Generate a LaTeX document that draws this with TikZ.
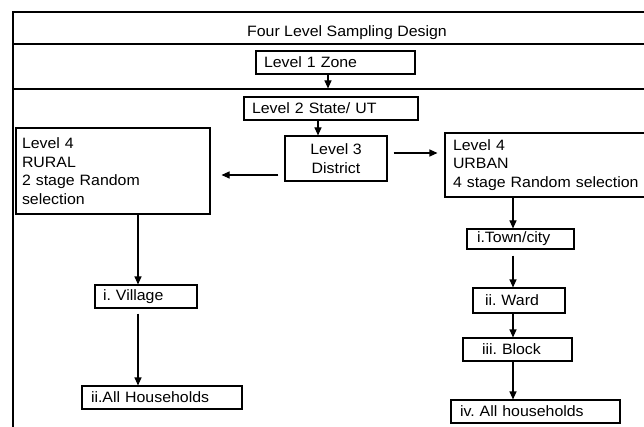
\documentclass[tikz,border=0pt]{standalone}
\usepackage{fontspec}
\setmainfont{Liberation Sans}[FakeStretch=1.06]
\usetikzlibrary{arrows.meta}

\begin{document}
\frenchspacing
\begin{tikzpicture}[x=1pt,y=-1pt,
    font=\fontsize{15}{18.7}\selectfont,
    line width=1.1pt,
    stagebox/.style={draw,rectangle,text width=#1,align=left,inner xsep=8pt,inner ysep=2pt,minimum height=23pt},
    midbox/.style={draw,rectangle,align=center,minimum width=102pt,minimum height=45pt},
    arr/.style={-{Triangle[length=8pt,width=7pt]}}]
  \useasboundingbox (0,0) rectangle (644,427);
  \clip (0,0) rectangle (644,427);
  % frame of the design
  \draw (13,427) -- (13,12) -- (660,12);
  \draw (13,44) -- (660,44);
  \draw (13,89) -- (660,89);
  \node[anchor=base] (title) at (347,36.7) {Four Level Sampling Design};

  \node[stagebox=143pt] (zone) at (335.5,62.5) {Level 1 Zone};
  \node[stagebox=158pt] (state) at (331,108.5) {Level 2 State/ UT};
  \node[midbox] (district) at (336,158.5) {Level 3\\District};
  \node[stagebox=182pt,inner xsep=6pt,minimum height=86pt] (rural) at (113,171)
    {Level 4\\RURAL\\2 stage Random\\selection};
  \node[stagebox=189pt,minimum height=64pt] (urban) at (547.5,165)
    {Level 4\\URBAN\\4 stage Random selection};

  % rural side
  \node[stagebox=86pt] (village) at (146,296.5) {i. Village};
  \node[stagebox=142pt,inner xsep=9pt] (hhrural) at (162,397.5) {ii.All Households};
  % urban side
  \node[stagebox=87pt,inner xsep=10pt,minimum height=20pt] (town) at (520.5,239) {i.Town/city};
  \node[stagebox=68pt,inner xsep=12pt,minimum height=25pt] (ward) at (519,300.5) {ii. Ward};
  \node[stagebox=71pt,inner xsep=19pt] (block) at (517.5,349.5) {iii. Block};
  \node[stagebox=151pt,inner xsep=9pt] (hhurban) at (535.5,411.5) {iv. All households};

  \draw[arr,shorten >=8pt] ([xshift=-7.5pt]zone.south) -- ([xshift=-7.5pt]zone.south |- state.north);
  \draw[arr] ([xshift=-13pt]state.south) -- ([xshift=-13pt]state.south |- district.north);
  \draw[arr,shorten <=6pt,shorten >=11pt] ([yshift=-16.5pt]district.west) -- ([yshift=-16.5pt]district.west -| rural.east);
  \draw[arr,shorten <=6pt,shorten >=7pt] ([yshift=5.5pt]district.east) -- ([yshift=5.5pt]district.east -| urban.west);
  \draw[arr] ([xshift=25pt]rural.south) -- ([xshift=25pt]rural.south |- village.north);
  \draw[arr,shorten <=5pt] ([xshift=-8pt]village.south) -- ([xshift=-8pt]village.south |- hhrural.north);
  \draw[arr] ([xshift=-34.5pt]urban.south) -- ([xshift=-34.5pt]urban.south |- town.north);
  \draw[arr,shorten <=6pt] ([xshift=-7.5pt]town.south) -- ([xshift=-7.5pt]town.south |- ward.north);
  \draw[arr] ([xshift=-6pt]ward.south) -- ([xshift=-6pt]ward.south |- block.north);
  \draw[arr] ([xshift=-4.5pt]block.south) -- ([xshift=-4.5pt]block.south |- hhurban.north);
\end{tikzpicture}
\end{document}
